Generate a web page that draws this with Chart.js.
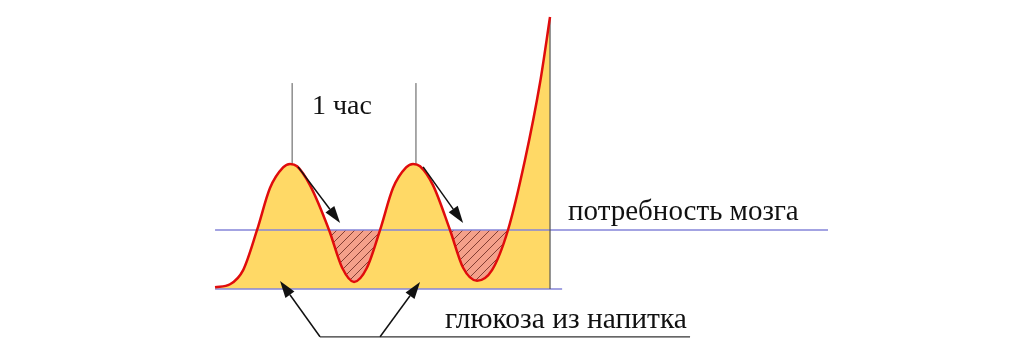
<!DOCTYPE html>
<html lang="ru">
<head>
<meta charset="UTF-8">
<title>Глюкоза и потребность мозга</title>
<script src="https://cdn.jsdelivr.net/npm/chart.js"></script>
<style>
    html, body { margin: 0; padding: 0; background: #fff; }
    #wrap { width: 1024px; height: 352px; }
</style>
</head>
<body>
<div id="wrap"><canvas id="glucoseChart" width="1024" height="352"></canvas></div>
<script>
// время в минутах (0 = начало кривой), уровень глюкозы (100 = потребность мозга)
const curveMinutes = [0, 7.3, 13.7, 20.5, 26.8, 33.2, 36.6, 40.0, 46.3, 55.6, 62.0, 67.8, 74.1, 80.5,
    86.8, 93.2, 96.6, 100.0, 106.3, 114.6, 121.0, 127.8, 135.1, 142.9, 151.2, 158.5, 163.4];
const curveLevel = [3, 8, 32, 100, 171, 206, 212, 208, 176, 100, 36, 12, 36, 100,
    171, 206, 212, 208, 176, 100, 36, 14, 32, 100, 219, 349, 461];

const demandLevel = 100;
const demandSpan = [0, 299];
const baseSpan = [0, 169.3];
const endMinute = 163.4;
const endTop = 461;
const hourMarks = [37.6, 98.0];
const hourMarkLevels = [211, 349];
// участки, где глюкозы не хватает (заштрихованы)
const deficitWindows = [[55.6, 80.5], [114.6, 142.9]];

// стрелки: откуда -> куда (минуты, уровень)
const arrowsFrom = [[40.5, 207], [101.5, 207], [51.2, -81], [80.5, -81]];
const arrowsTo = [[61.0, 112], [121.0, 112], [31.7, 13.6], [100.0, 11.9]];
const bracketLine = [[51.2, -81], [231.7, -81]];

const labelTexts = ['1 час', 'потребность мозга', 'глюкоза из напитка'];
const labelAt = [[47.3, 296.6], [172.2, 117], [112.2, -66]];
const labelSizes = [28, 29, 29.5];

const curvePoints = curveMinutes.map((m, i) => ({ x: m, y: curveLevel[i] }));

// штриховка
function makeHatch() {
    const c = document.createElement('canvas');
    c.width = 9; c.height = 9;
    const g = c.getContext('2d');
    g.fillStyle = '#f4a08a';
    g.fillRect(0, 0, 9, 9);
    g.strokeStyle = 'rgba(110, 45, 35, 0.85)';
    g.lineWidth = 1;
    g.beginPath();
    g.moveTo(0, 9); g.lineTo(9, 0);
    g.moveTo(-1, 1); g.lineTo(1, -1);
    g.moveTo(8, 10); g.lineTo(10, 8);
    g.stroke();
    return g.createPattern(c, 'repeat');
}
const hatch = makeHatch();

function straight(points, color, width) {
    return {
        data: points,
        borderColor: color,
        borderWidth: width,
        pointRadius: 0,
        fill: false,
        tension: 0
    };
}

const datasets = [
    {
        // основная кривая
        data: curvePoints,
        borderColor: '#e00c0c',
        borderWidth: 2.5,
        backgroundColor: '#ffd966',
        fill: 'origin',
        pointRadius: 0,
        cubicInterpolationMode: 'monotone'
    },
    straight([{ x: endMinute, y: 0 }, { x: endMinute, y: endTop }], '#555555', 1.2)
];
hourMarks.forEach(m => {
    datasets.push(straight([{ x: m, y: hourMarkLevels[0] }, { x: m, y: hourMarkLevels[1] }], '#555555', 1));
});
datasets.push(
    straight([{ x: demandSpan[0], y: demandLevel }, { x: demandSpan[1], y: demandLevel }], '#8585d8', 1.3),
    straight([{ x: baseSpan[0], y: 0 }, { x: baseSpan[1], y: 0 }], '#8585d8', 1.3)
);

// та же кривая вокруг каждого провала, заливка только ниже линии потребности
deficitWindows.forEach(w => {
    datasets.push({
        data: curvePoints.filter(p => p.x >= w[0] - 10 && p.x <= w[1] + 10),
        borderColor: 'transparent',
        borderWidth: 0,
        fill: { target: { value: demandLevel }, above: 'transparent', below: hatch },
        pointRadius: 0,
        cubicInterpolationMode: 'monotone'
    });
});

const annotations = {
    id: 'annotations',
    afterDatasetsDraw(chart) {
        const { ctx, scales: { x, y } } = chart;
        const px = p => [x.getPixelForValue(p[0]), y.getPixelForValue(p[1])];
        ctx.save();

        // линия под подписью
        const [b0x, b0y] = px(bracketLine[0]);
        const [b1x, b1y] = px(bracketLine[1]);
        ctx.strokeStyle = '#333';
        ctx.lineWidth = 1.2;
        ctx.beginPath();
        ctx.moveTo(b0x, b0y); ctx.lineTo(b1x, b1y);
        ctx.stroke();

        ctx.strokeStyle = '#111';
        ctx.fillStyle = '#111';
        ctx.lineWidth = 1.5;
        arrowsFrom.forEach((f, i) => {
            const [x0, y0] = px(f);
            const [x1, y1] = px(arrowsTo[i]);
            const a = Math.atan2(y1 - y0, x1 - x0);
            const head = 17, half = 5.5;
            const bx = x1 - head * Math.cos(a);
            const by = y1 - head * Math.sin(a);
            ctx.beginPath();
            ctx.moveTo(x0, y0); ctx.lineTo(bx, by);
            ctx.stroke();
            ctx.beginPath();
            ctx.moveTo(x1, y1);
            ctx.lineTo(bx + half * Math.sin(a), by - half * Math.cos(a));
            ctx.lineTo(bx - half * Math.sin(a), by + half * Math.cos(a));
            ctx.closePath();
            ctx.fill();
        });

        ctx.fillStyle = '#111';
        ctx.textAlign = 'left';
        ctx.textBaseline = 'alphabetic';
        labelTexts.forEach((t, i) => {
            const [lx, ly] = px(labelAt[i]);
            ctx.font = labelSizes[i] + 'px "Liberation Serif", "DejaVu Serif", serif';
            ctx.fillText(t, lx, ly);
        });
        ctx.restore();
    }
};

const ctx = document.getElementById('glucoseChart').getContext('2d');
new Chart(ctx, {
    type: 'line',
    data: { datasets: datasets },
    options: {
        responsive: false,
        animation: false,
        layout: { padding: 0 },
        scales: {
            x: { type: 'linear', min: -104.9, max: 394.6, display: false },
            y: { type: 'linear', min: -106.8, max: 489.8, display: false }
        },
        plugins: {
            legend: { display: false },
            tooltip: { enabled: false },
            filler: { drawTime: 'beforeDatasetsDraw' }
        }
    },
    plugins: [annotations]
});
</script>
</body>
</html>
